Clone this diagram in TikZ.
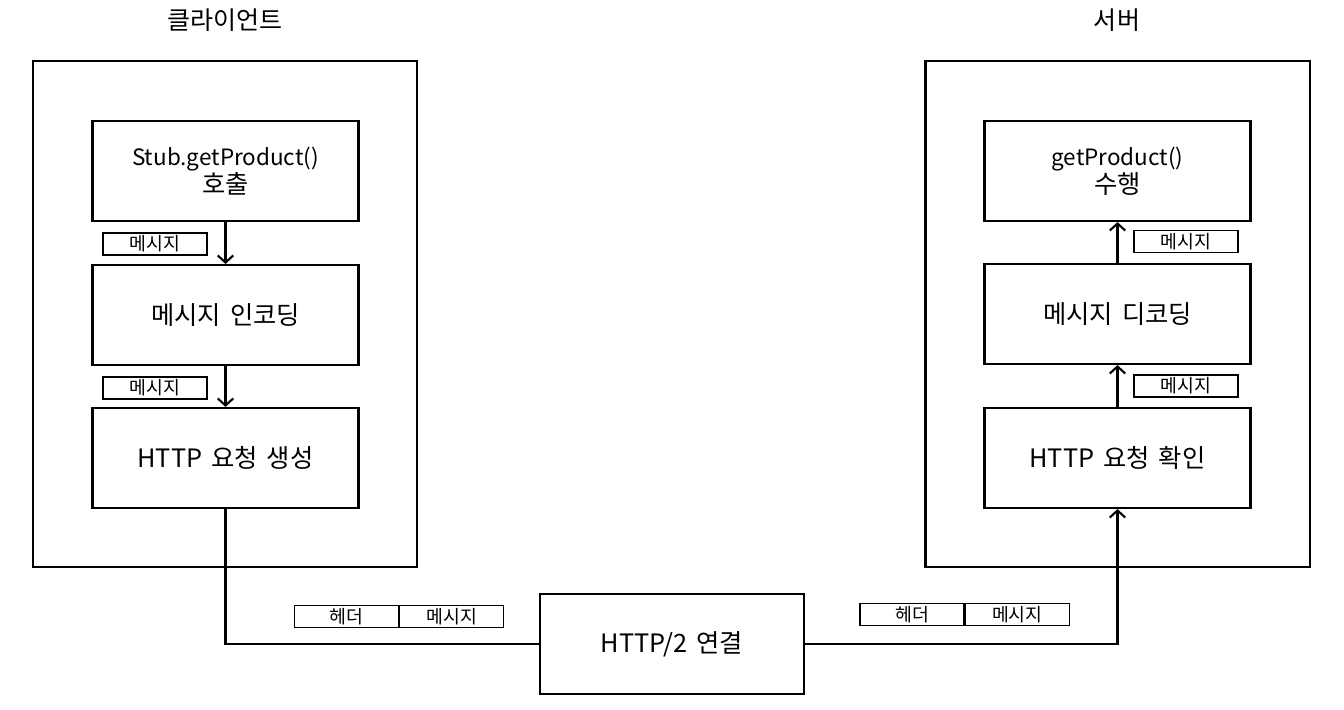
\documentclass[tikz,border=0pt]{standalone}
\usepackage{fontspec}
\setmainfont[WordSpace=1.6]{Noto Sans CJK KR}
\usetikzlibrary{arrows.meta,positioning}

\newcommand{\callname}[1]{{\fontsize{16}{20}\selectfont #1}}

\tikzset{
  side/.style={draw,line width=1.5pt,minimum width=9.6cm,minimum height=12.65cm,inner sep=0pt},
  stage/.style={draw,line width=1.5pt,minimum width=6.65cm,minimum height=2.5cm,align=center,font=\fontsize{18}{20}\selectfont},
  tag/.style={draw,line width=0.9pt,minimum width=2.6cm,minimum height=0.55cm,inner sep=0pt,font=\fontsize{13}{13}\selectfont},
  title/.style={font=\fontsize{17.8}{20}\selectfont},
  flow/.style={line width=1.5pt,-{Straight Barb[length=5pt,width=11pt,line width=1.5pt]}},
  wire/.style={line width=1.5pt},
}

\begin{document}
\begin{tikzpicture}[x=0.025cm,y=-0.025cm]
	\useasboundingbox (0,0) rectangle (1344,710);

	% titles
	\node[title] (ctitle) at (225,20) {클라이언트};
	\node[title] (stitle) at (1117,20) {서버};

	% client
	\node[side] (client) at (225,314) {};
	\node[stage] (call) at (225.5,171) {\callname{Stub.getProduct()}\\호출};
	\node[stage] (encode) at (225.5,315) {메시지 인코딩};
	\node[stage] (request) at (225.5,458) {HTTP 요청 생성};
	\node[tag] (cmsga) at (155,244) {메시지};
	\node[tag] (cmsgb) at (155,388) {메시지};
	\draw[flow] (call) -- (encode);
	\draw[flow] (encode) -- (request);

	% server
	\node[side] (server) at (1117.5,314) {};
	\node[stage] (run) at (1117.5,171) {\callname{getProduct()}\\수행};
	\node[stage] (decode) at (1117.5,314) {메시지 디코딩};
	\node[stage] (check) at (1117.5,458) {HTTP 요청 확인};
	\node[tag] (smsga) at (1186,241.5) {메시지};
	\node[tag] (smsgb) at (1186,386) {메시지};
	\draw[flow] (decode) -- (run);
	\draw[flow] (check) -- (decode);

	% connection
	\node[stage,minimum width=6.6cm] (link) at (672,644) {HTTP/2 연결};
	\draw[wire] (request.south) |- (link.west);
	\draw[flow] (link.east) -| (check.south);

	% frames
	\node[tag] (chead) at (346.5,616.5) {헤더};
	\node[tag,right=0pt of chead] (cbody) {메시지};
	\node[tag] (shead) at (912,614.5) {헤더};
	\node[tag,right=0pt of shead] (sbody) {메시지};

\end{tikzpicture}
\end{document}
